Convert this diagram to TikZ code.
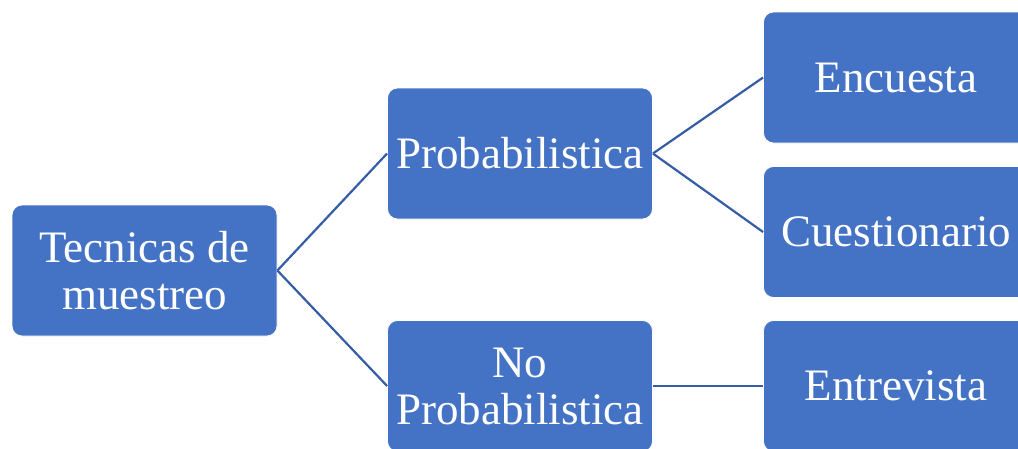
\documentclass[tikz,border=0pt]{standalone}
\usepackage{fontspec}
\setmainfont{Liberation Serif}
\definecolor{boxblue}{HTML}{4472C4}
\definecolor{linkblue}{HTML}{345DA6}
\tikzset{
  itembox/.style={draw=white, line width=0.8pt, fill=boxblue, rounded corners=10pt,
    minimum width=265pt, minimum height=131pt, inner sep=0pt, text=white,
    align=center, font=\fontsize{45}{47}\selectfont},
  link/.style={draw=linkblue, line width=2.2pt}
}
\begin{document}
\begin{tikzpicture}[x=1pt,y=-1pt]
\useasboundingbox (0,0) rectangle (1018,448);
\clip (0,0) rectangle (1018,448);
\node[itembox] (root) at (144.5,270.5) {Tecnicas de\\muestreo};
\node[itembox] (prob) at (520,153.5) {Probabilistica};
\node[itembox] (noprob) at (520,386) {No\\Probabilistica};
\node[itembox] (enc) at (896,77.5) {Encuesta};
\node[itembox] (cues) at (896,232) {Cuestionario};
\node[itembox] (entr) at (896,386) {Entrevista};
\draw[link] (root.east) -- (prob.west);
\draw[link] (root.east) -- (noprob.west);
\draw[link] (prob.east) -- (enc.west);
\draw[link] (prob.east) -- (cues.west);
\draw[link] (noprob.east) -- (entr.west);
\end{tikzpicture}
\end{document}
